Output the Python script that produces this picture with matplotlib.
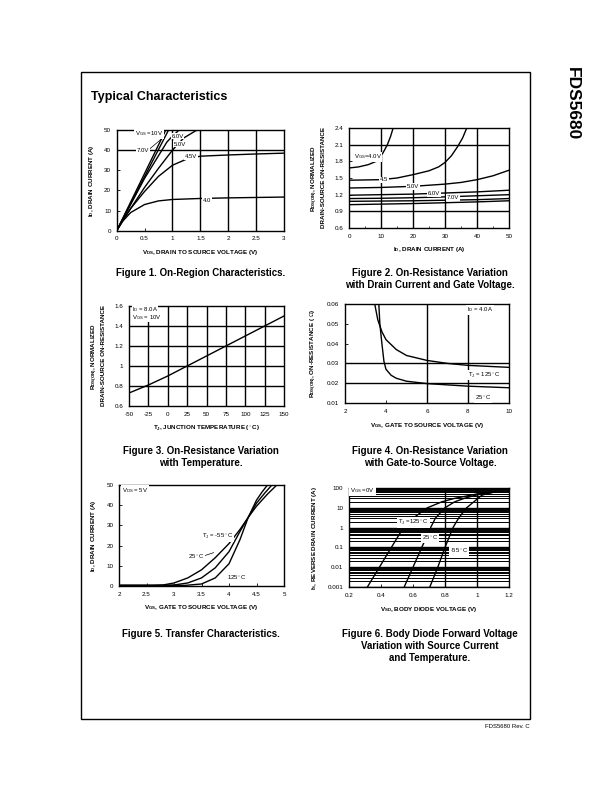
"""Typical characteristics page, FDS5680 datasheet style."""

import matplotlib
matplotlib.use("Agg")
import matplotlib.pyplot as plt
from matplotlib.patches import Rectangle
from matplotlib.ticker import FixedLocator, LogLocator, NullFormatter

plt.rcParams['font.family'] = ['Liberation Sans', 'DejaVu Sans']
plt.rcParams['mathtext.fontset'] = 'custom'
plt.rcParams['mathtext.rm'] = 'Liberation Sans'
plt.rcParams['mathtext.it'] = 'Liberation Sans'
plt.rcParams['mathtext.bf'] = 'Liberation Sans:bold'
plt.rcParams['mathtext.default'] = 'rm'

## Data
# Figure 1: ID vs VDS for several VGS
f1_vds_10 = [0, 0.88]
f1_id_10 = [0, 50]
f1_vds_7 = [0, 0.93]
f1_id_7 = [0, 50]
f1_vds_6 = [0, 0.5, 0.9, 1.0, 1.12]
f1_id_6 = [0, 26, 44, 47, 50]
f1_vds_5 = [0, 0.25, 0.5, 0.75, 1.0, 1.2, 1.44]
f1_id_5 = [0, 11, 21.5, 31, 40, 46, 50]
f1_vds_45 = [0, 0.1, 0.25, 0.5, 0.75, 1.0, 1.25, 1.5, 2, 2.5, 3]
f1_id_45 = [0, 5, 11, 19.5, 27, 32.5, 35.5, 37, 37.6, 38.1, 38.5]
f1_vds_40 = [0, 0.1, 0.25, 0.5, 0.75, 1, 1.5, 2, 2.5, 3]
f1_id_40 = [0, 4.5, 9, 13, 14.8, 15.5, 16, 16.3, 16.5, 16.7]

# Figure 2: normalized RDS(on) vs ID
f2_id_40 = [0, 3, 6, 8.5, 10.6, 12, 13, 13.8]
f2_r_40 = [1.68, 1.70, 1.74, 1.80, 1.95, 2.1, 2.25, 2.4]
f2_id_45 = [0, 10, 15, 20, 25, 28, 30, 32, 34, 35.5, 36.8]
f2_r_45 = [1.46, 1.47, 1.5, 1.56, 1.63, 1.7, 1.78, 1.9, 2.07, 2.22, 2.4]
f2_id_50 = [0, 10, 20, 30, 35, 40, 45, 50]
f2_r_50 = [1.32, 1.33, 1.35, 1.39, 1.42, 1.47, 1.54, 1.64]
f2_id_low = [0, 10, 20, 30, 40, 50]
f2_r_60 = [1.19, 1.2, 1.21, 1.23, 1.25, 1.28]
f2_r_70 = [1.13, 1.135, 1.145, 1.16, 1.18, 1.20]
f2_r_80 = [1.08, 1.085, 1.09, 1.1, 1.11, 1.13]
f2_r_10 = [1.02, 1.03, 1.04, 1.055, 1.07, 1.09]

# Figure 3: normalized RDS(on) vs junction temperature
f3_tj = [-50, -25, 0, 25, 50, 75, 100, 125, 150]
f3_r = [0.73, 0.81, 0.9, 1.0, 1.1, 1.2, 1.3, 1.4, 1.5]

# Figure 4: RDS(on) vs VGS
f4_vgs_125 = [3.45, 3.6, 3.8, 4.0, 4.5, 5, 6, 7, 8, 9, 10]
f4_r_125 = [0.06, 0.052, 0.046, 0.042, 0.037, 0.034, 0.0315, 0.030, 0.029, 0.0285, 0.028]
f4_vgs_25 = [3.65, 3.7, 3.8, 3.9, 4.0, 4.25, 4.5, 5, 6, 8, 10]
f4_r_25 = [0.06, 0.05, 0.04, 0.031, 0.027, 0.024, 0.0225, 0.021, 0.0198, 0.0185, 0.0177]

# Figure 5: transfer characteristics
f5_vgs_a = [2, 2.6, 2.8, 3.0, 3.25, 3.5, 3.75, 4.0, 4.2, 4.35, 4.5, 4.7, 4.87]
f5_id_a = [0.3, 0.3, 0.5, 1.5, 4, 8, 14, 21, 28, 34, 39.5, 45.5, 50]
f5_vgs_b = [2, 2.8, 3.0, 3.25, 3.5, 3.75, 4.0, 4.2, 4.35, 4.5, 4.65, 4.78]
f5_id_b = [0.3, 0.3, 0.5, 1.5, 4, 9, 17, 27, 34, 41, 46, 50]
f5_vgs_c = [2, 3.2, 3.5, 3.75, 4.0, 4.2, 4.35, 4.5, 4.6, 4.7]
f5_id_c = [0.3, 0.3, 1, 4, 11, 23, 34, 42.5, 46.5, 50]

# Figure 6: body diode forward voltage
f6_vsd_125 = [0.315, 0.39, 0.465, 0.54, 0.6, 0.69, 0.78, 0.86, 1.0, 1.11]
f6_is_125 = [0.001, 0.01, 0.1, 1, 3, 10, 20, 30, 50, 62]
f6_vsd_25 = [0.545, 0.60, 0.655, 0.71, 0.74, 0.80, 0.86, 0.92, 1.0, 1.1]
f6_is_25 = [0.001, 0.01, 0.1, 1, 3, 10, 20, 30, 45, 60]
f6_vsd_m55 = [0.705, 0.755, 0.80, 0.85, 0.885, 0.935, 0.98, 1.03, 1.12]
f6_is_m55 = [0.001, 0.01, 0.1, 1, 3, 10, 20, 43, 70]

## Helpers
W, H = 612, 792
LW = 1.0


def px_axes(fig, left, top, right, bottom):
    return fig.add_axes([left / W, 1 - bottom / H, (right - left) / W, (bottom - top) / H])


def setup(ax, xticks, xlabels, yticks, ylabels, xlim, ylim, xlabel, ylabel):
    ax.set_xlim(xlim)
    ax.set_ylim(ylim)
    ax.xaxis.set_major_locator(FixedLocator(xticks))
    ax.set_xticklabels(xlabels)
    ax.yaxis.set_major_locator(FixedLocator(yticks))
    ax.set_yticklabels(ylabels)
    ax.tick_params(direction='in', length=2.5, width=0.6, labelsize=4.5, pad=4)
    for s in ax.spines.values():
        s.set_linewidth(1.0)
    ax.set_xlabel(xlabel, fontsize=4.5, fontweight='bold', labelpad=5)
    ax.set_ylabel(ylabel, fontsize=4.5, fontweight='bold', labelpad=6, linespacing=1.3)


def hgrid(ax, values):
    for v in values:
        ax.axhline(v, color='black', lw=LW, zorder=1)


def vgrid(ax, values):
    for v in values:
        ax.axvline(v, color='black', lw=LW, zorder=1)


def label(ax, x, y, s, pad=0.6, **kw):
    ax.text(x, y, s, fontsize=4.3, va='center', ha='left', zorder=5,
            bbox=dict(facecolor='white', edgecolor='none', pad=pad), **kw)


fig = plt.figure(figsize=(W / 100, H / 100), dpi=100)

# page furniture
fig.add_artist(Rectangle((81 / W, 1 - 719 / H), 449 / W, 647 / H, transform=fig.transFigure,
                         fill=False, edgecolor='black', lw=1.0))
fig.text(91 / W, 1 - 97 / H, 'Typical Characteristics', fontsize=9, fontweight='bold', va='center')
fig.text(572 / W, 1 - 67 / H, 'FDS5680', fontsize=12.5, fontweight='bold', rotation=-90,
         ha='center', va='top')
fig.text(530 / W, 1 - 727 / H, 'FDS5680 Rev. C', fontsize=4.3, ha='right', va='center')

## Figure 1
ax1 = px_axes(fig, 116.7, 130, 284, 230.7)
setup(ax1, [0, 0.5, 1, 1.5, 2, 2.5, 3], ['0', '0.5', '1', '1.5', '2', '2.5', '3'],
      [0, 10, 20, 30, 40, 50], ['0', '10', '20', '30', '40', '50'], (0, 3), (0, 50),
      r'V$_\mathbf{DS}$, DRAIN TO SOURCE VOLTAGE (V)', r'I$_\mathbf{D}$, DRAIN CURRENT (A)')
hgrid(ax1, [40])
vgrid(ax1, [1, 1.5, 2, 2.5])
for xs, ys in [(f1_vds_10, f1_id_10), (f1_vds_7, f1_id_7), (f1_vds_6, f1_id_6),
               (f1_vds_5, f1_id_5), (f1_vds_45, f1_id_45), (f1_vds_40, f1_id_40)]:
    ax1.plot(xs, ys, color='black', lw=LW, zorder=3)
ax1.plot([0.6, 0.8], [40.8, 45.5], color='black', lw=0.5, zorder=4)
label(ax1, 0.33, 48, r'V$_{GS}$ =10V')
label(ax1, 0.98, 47, '6.0V')
label(ax1, 1.03, 43, '5.0V')
label(ax1, 0.36, 40, '7.0V')
label(ax1, 1.22, 36.6, '4.5V')
label(ax1, 1.55, 15, '4.0')

## Figure 2
ax2 = px_axes(fig, 349, 128, 509, 228)
setup(ax2, [0, 10, 20, 30, 40, 50], ['0', '10', '20', '30', '40', '50'],
      [0.6, 0.9, 1.2, 1.5, 1.8, 2.1, 2.4], ['0.6', '0.9', '1.2', '1.5', '1.8', '2.1', '2.4'],
      (0, 50), (0.6, 2.4), r'I$_\mathbf{D}$, DRAIN CURRENT (A)',
      'R$_\\mathbf{DS(ON)}$, NORMALIZED\nDRAIN-SOURCE ON-RESISTANCE')
ax2.xaxis.set_minor_locator(FixedLocator([5, 15, 25, 35, 45]))
ax2.tick_params(which='minor', direction='in', length=1.5, width=0.5)
hgrid(ax2, [2.1, 0.9])
vgrid(ax2, [10, 20, 30, 40])
for xs, ys in [(f2_id_40, f2_r_40), (f2_id_45, f2_r_45), (f2_id_50, f2_r_50),
               (f2_id_low, f2_r_60), (f2_id_low, f2_r_70), (f2_id_low, f2_r_80),
               (f2_id_low, f2_r_10)]:
    ax2.plot(xs, ys, color='black', lw=LW, zorder=3)
label(ax2, 1.5, 1.88, r'V$_{GS}$=4.0V', pad=0.3)
label(ax2, 9.7, 1.465, '4.5')
label(ax2, 18, 1.345, '5.0V')
label(ax2, 24.7, 1.22, '6.0V')
label(ax2, 30.5, 1.15, '7.0V')

## Figure 3
ax3 = px_axes(fig, 129, 306, 284, 406)
setup(ax3, [-50, -25, 0, 25, 50, 75, 100, 125, 150],
      ['-50', '-25', '0', '25', '50', '75', '100', '125', '150'],
      [0.6, 0.8, 1.0, 1.2, 1.4, 1.6], ['0.6', '0.8', '1', '1.2', '1.4', '1.6'],
      (-50, 150), (0.6, 1.6), r'T$_\mathbf{J}$, JUNCTION TEMPERATURE ($^\circ$C)',
      'R$_\\mathbf{DS(ON)}$, NORMALIZED\nDRAIN-SOURCE ON-RESISTANCE')
hgrid(ax3, [0.8, 1.0, 1.2, 1.4])
vgrid(ax3, [-25, 0, 25, 50, 75, 100, 125])
ax3.plot(f3_tj, f3_r, color='black', lw=LW, zorder=3)
label(ax3, -46.5, 1.56, r'I$_D$ = 8.0A', pad=0.1)
label(ax3, -46.5, 1.485, r'V$_{GS}$ = 10V', pad=0.1)

## Figure 4
ax4 = px_axes(fig, 345, 304, 509, 403)
setup(ax4, [2, 4, 6, 8, 10], ['2', '4', '6', '8', '10'],
      [0.01, 0.02, 0.03, 0.04, 0.05, 0.06], ['0.01', '0.02', '0.03', '0.04', '0.05', '0.06'],
      (2, 10), (0.01, 0.06), r'V$_\mathbf{GS}$, GATE TO SOURCE VOLTAGE (V)',
      'R$_\\mathbf{DS(ON)}$, ON-RESISTANCE ( $\\Omega$)')
hgrid(ax4, [0.03, 0.02])
vgrid(ax4, [6, 8])
ax4.plot(f4_vgs_125, f4_r_125, color='black', lw=LW, zorder=3)
ax4.plot(f4_vgs_25, f4_r_25, color='black', lw=LW, zorder=3)
label(ax4, 7.94, 0.057, r'I$_D$ = 4.0A')
label(ax4, 8.0, 0.0241, r'T$_J$ = 125$^\circ$C')
label(ax4, 8.34, 0.0126, r'25$^\circ$C')

## Figure 5
ax5 = px_axes(fig, 119, 485, 284, 586)
setup(ax5, [2, 2.5, 3, 3.5, 4, 4.5, 5], ['2', '2.5', '3', '3.5', '4', '4.5', '5'],
      [0, 10, 20, 30, 40, 50], ['0', '10', '20', '30', '40', '50'], (2, 5), (0, 50),
      r'V$_\mathbf{GS}$, GATE TO SOURCE VOLTAGE (V)', r'I$_\mathbf{D}$, DRAIN CURRENT (A)')
for xs, ys in [(f5_vgs_a, f5_id_a), (f5_vgs_b, f5_id_b), (f5_vgs_c, f5_id_c)]:
    ax5.plot(xs, ys, color='black', lw=LW, zorder=3)
ax5.plot([3.52, 3.72], [14.7, 16.5], color='black', lw=0.5, zorder=4)
label(ax5, 2.05, 47.5, r'V$_{DS}$ = 5V')
label(ax5, 3.5, 24.4, r'T$_J$ = -55$^\circ$C')
label(ax5, 3.25, 14.5, r'25$^\circ$C')
label(ax5, 3.96, 3.8, r'125$^\circ$C')

## Figure 6
ax6 = px_axes(fig, 349, 488, 509, 587)
ax6.set_yscale('log')
setup(ax6, [0.2, 0.4, 0.6, 0.8, 1.0, 1.2], ['0.2', '0.4', '0.6', '0.8', '1', '1.2'],
      [0.001, 0.01, 0.1, 1, 10, 100], ['0.001', '0.01', '0.1', '1', '10', '100'],
      (0.2, 1.2), (0.001, 100), r'V$_\mathbf{SD}$, BODY DIODE VOLTAGE (V)',
      r'I$_\mathbf{S}$, REVERSE DRAIN CURRENT (A)')
ax6.yaxis.set_minor_locator(LogLocator(base=10, subs=range(2, 10)))
ax6.yaxis.set_minor_formatter(NullFormatter())
ax6.tick_params(which='minor', length=0)
ax6.yaxis.grid(True, which='minor', color='black', lw=0.7, zorder=1)
ax6.yaxis.grid(True, which='major', color='black', lw=1.0, zorder=1)
ax6.set_axisbelow(True)
vgrid(ax6, [0.8, 1.0])
for xs, ys in [(f6_vsd_125, f6_is_125), (f6_vsd_25, f6_is_25), (f6_vsd_m55, f6_is_m55)]:
    ax6.plot(xs, ys, color='black', lw=LW, zorder=3)
label(ax6, 0.206, 75, r'V$_{GS}$ =0V')
label(ax6, 0.506, 1.77, r'T$_J$ =125$^\circ$C')
label(ax6, 0.654, 0.29, r'25$^\circ$C')
label(ax6, 0.83, 0.066, r'-55$^\circ$C')

## Captions
captions = [
    (201, 273, 'Figure 1. On-Region Characteristics.'),
    (430, 273, 'Figure 2. On-Resistance Variation\nwith Drain Current and Gate Voltage.'),
    (201, 451, 'Figure 3. On-Resistance Variation\nwith Temperature.'),
    (430, 451, 'Figure 4. On-Resistance Variation\nwith Gate-to-Source Voltage.'),
    (201, 634, 'Figure 5. Transfer Characteristics.'),
    (430, 634, 'Figure 6. Body Diode Forward Voltage\nVariation with Source Current\nand Temperature.'),
]
for cx, cy, txt in captions:
    fig.text(cx / W, 1 - (cy - 5) / H, txt, fontsize=7, fontweight='bold', ha='center', va='top',
             linespacing=1.25)

fig.savefig('out.png', dpi=100)
